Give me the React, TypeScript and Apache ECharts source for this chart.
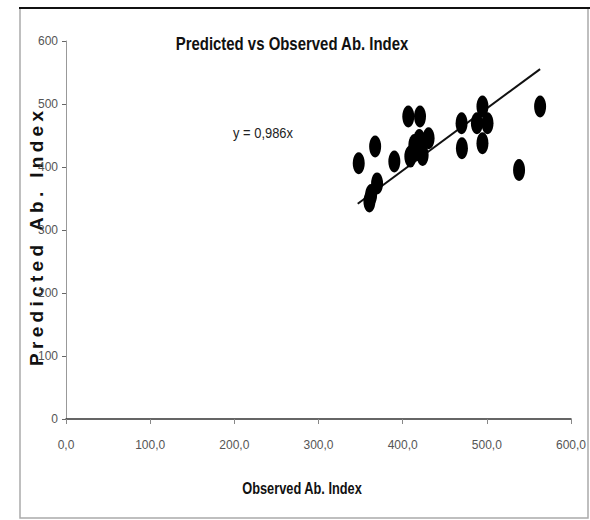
import React, { useEffect, useRef } from "react";
import * as echarts from "echarts";

const observed = [347.8, 367.3, 390.1, 369.6, 362.5, 360.5, 406.7, 420.6, 409.1, 413.9, 419.8, 423.7, 430.8, 417.8, 470.0, 470.4, 494.8, 488.2, 500.8, 494.8, 563.3, 538.3];
const predicted = [405.9, 432.4, 408.6, 374.0, 355.4, 345.4, 480.2, 480.2, 416.5, 435.0, 443.0, 419.0, 445.6, 427.0, 469.5, 429.7, 496.0, 469.5, 469.5, 437.7, 496.0, 395.2];
const trendSlope = 0.986;
const trendRange = [346.6, 563.3];
const xTicks = ["0,0", "100,0", "200,0", "300,0", "400,0", "500,0", "600,0"];
const yTicks = ["0", "100", "200", "300", "400", "500", "600"];

const SANS = "'Liberation Sans'";

function yNameChars(text: string, font: string, length: number) {
  const c = document.createElement("canvas").getContext("2d")!;
  c.font = font;
  const ws = text.split("").map((ch) => c.measureText(ch).width);
  const total = ws.reduce((a, b) => a + b, 0);
  const extra = (length - total) / (text.length - 1);
  let pos = 0;
  return text.split("").map((ch, i) => {
    const el = {
      type: "text",
      x: pos,
      y: 0,
      style: { text: ch, font, fill: "#111", verticalAlign: "middle", align: "left" },
    };
    pos += ws[i] + extra;
    return el;
  });
}

export default function App() {
  const ref = useRef<HTMLDivElement>(null);
  useEffect(() => {
    const chart = echarts.init(ref.current!, null, { renderer: "svg" });
    const points = observed.map((x, i) => [x, predicted[i]]);
    const trend = trendRange.map((x) => [x, trendSlope * x]);
    const yFont = "bold 19px " + SANS;
    chart.setOption({
      animation: false,
      backgroundColor: "#fff",
      grid: { left: 66, right: 19, top: 41, bottom: 101 },
      xAxis: {
        type: "value",
        min: 0,
        max: 600,
        interval: 100,
        splitLine: { show: false },
        axisLine: { show: true, onZero: false, lineStyle: { color: "#333", width: 1.5 } },
        axisTick: { show: true, inside: false, length: 5, lineStyle: { color: "#888" } },
        axisLabel: {
          margin: 20,
          color: "#555",
          fontFamily: SANS,
          fontSize: 12,
          formatter: (v: number) => xTicks[Math.round(v / 100)] ?? "",
        },
      },
      yAxis: {
        type: "value",
        min: 0,
        max: 600,
        interval: 100,
        splitLine: { show: false },
        axisLine: { show: true, lineStyle: { color: "#999", width: 1 } },
        axisTick: { show: true, length: 4, lineStyle: { color: "#666" } },
        axisLabel: {
          margin: 8,
          color: "#555",
          fontFamily: SANS,
          fontSize: 12,
          formatter: (v: number) => yTicks[Math.round(v / 100)] ?? "",
        },
      },
      series: [
        {
          type: "line",
          data: trend,
          symbol: "none",
          lineStyle: { color: "#111", width: 2 },
          z: 3,
        },
        {
          type: "scatter",
          data: points,
          symbol: "circle",
          symbolSize: [12, 22],
          itemStyle: { color: "#000", opacity: 1 },
          z: 4,
        },
      ],
      graphic: [
        {
          type: "rect",
          shape: { x: 20, y: 8, width: 568, height: 510 },
          style: { fill: "none", stroke: "#aaa", lineWidth: 1.5 },
          silent: true,
        },
        {
          type: "line",
          shape: { x1: 19, y1: 8, x2: 590, y2: 8 },
          style: { stroke: "#111", lineWidth: 2 },
          silent: true,
        },
        {
          type: "text",
          x: 292,
          y: 44,
          scaleX: 0.83,
          style: { text: "Predicted vs Observed Ab. Index", font: "bold 18px " + SANS, fill: "#111", align: "center", verticalAlign: "middle" },
        },
        {
          type: "text",
          x: 263,
          y: 133,
          scaleX: 0.86,
          style: { text: "y = 0,986x", font: "15px " + SANS, fill: "#222", align: "center", verticalAlign: "middle" },
        },
        {
          type: "text",
          x: 302,
          y: 488,
          scaleX: 0.8,
          style: { text: "Observed Ab. Index", font: "bold 16px " + SANS, fill: "#111", align: "center", verticalAlign: "middle" },
        },
        {
          type: "group",
          x: 36,
          y: 366,
          rotation: Math.PI / 2,
          children: yNameChars("Predicted Ab. Index", yFont, 255),
        },
      ],
    });
    return () => chart.dispose();
  }, []);
  return <div ref={ref} style={{ position: "fixed", left: 0, top: 0, width: 590, height: 520 }} />;
}
